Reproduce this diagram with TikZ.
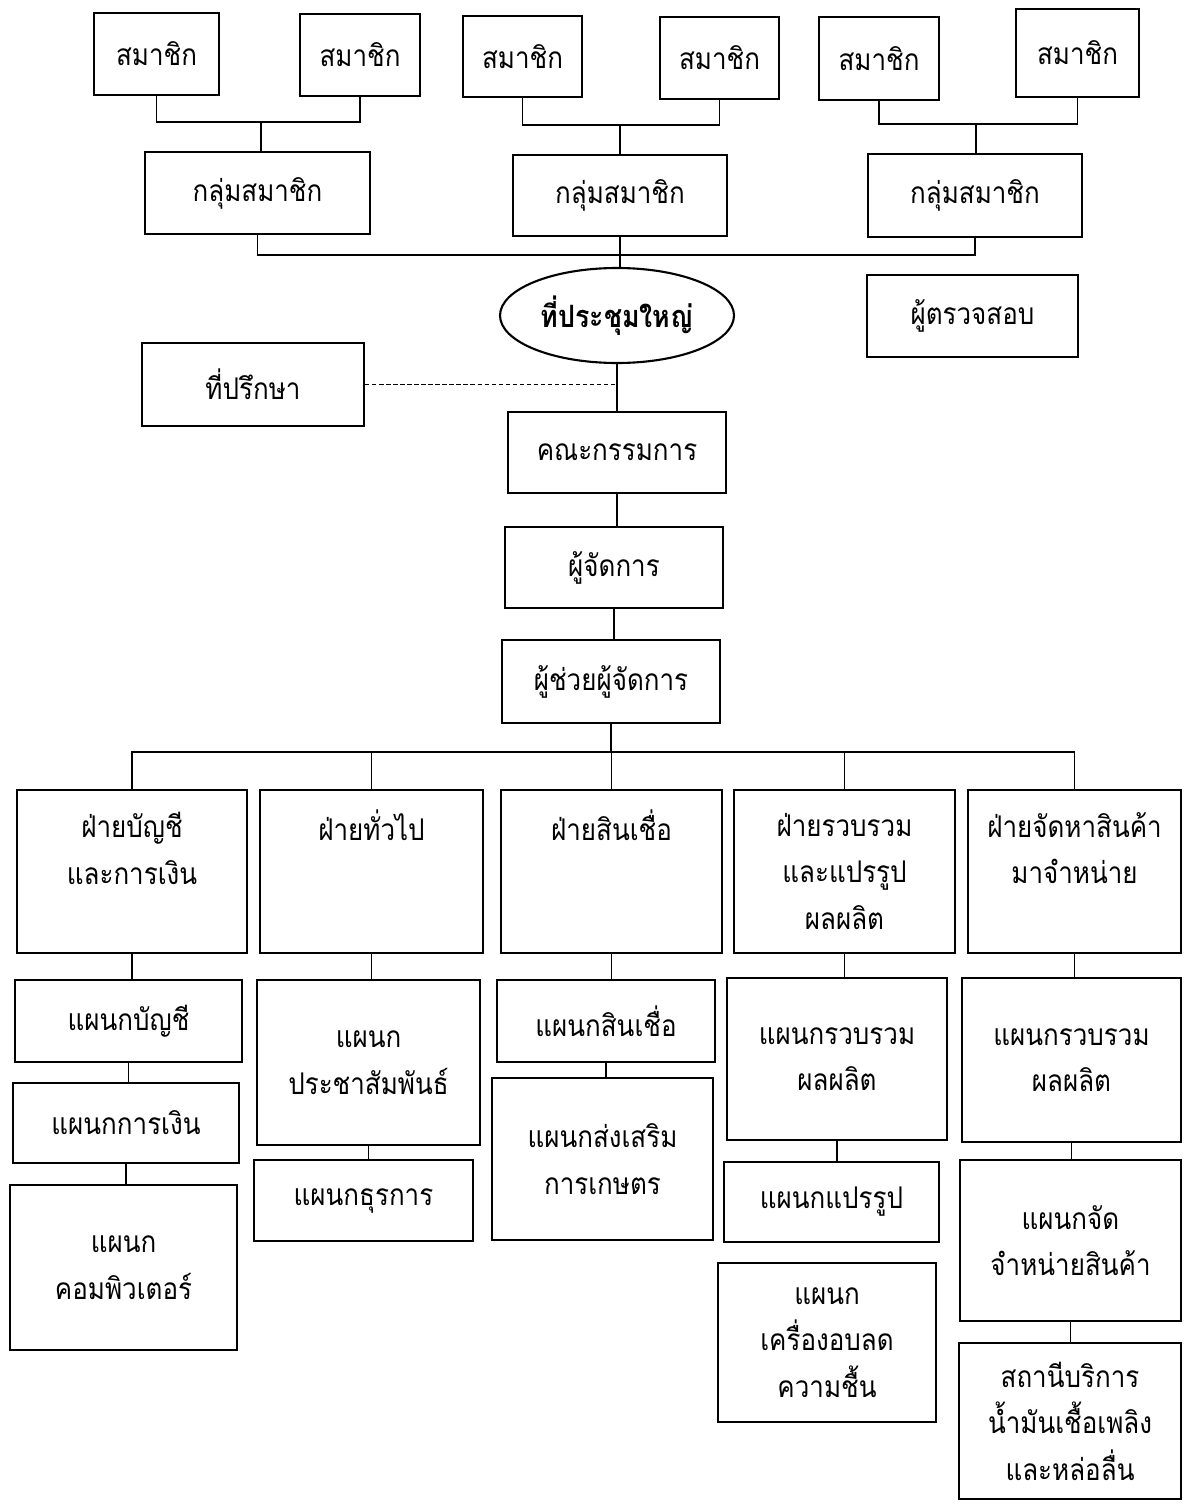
\documentclass[tikz,border=0pt]{standalone}
\usepackage{fontspec}
\setmainfont[Script=Thai, FakeStretch=0.87]{Loma}
\usetikzlibrary{shapes.geometric}

\begin{document}
\begin{tikzpicture}[x=0.02cm, y=-0.02cm,
		font=\fontsize{17pt}{26.5pt}\selectfont,
		bx/.style 2 args={draw, line width=1.2pt, minimum width=#1*0.02cm, minimum height=#2*0.02cm, inner sep=0pt, align=center},
		ln/.style={line width=0.8pt}]
		\useasboundingbox (0,0) rectangle (1184,1504);
		% members and groups
		\node[bx={125}{82}] (m1) at (156.5,54) {สมาชิก};
		\node[bx={120}{82}] (m2) at (360,55) {สมาชิก};
		\node[bx={119}{81}] (m3) at (522.5,56.5) {สมาชิก};
		\node[bx={119}{82}] (m4) at (719.5,58) {สมาชิก};
		\node[bx={120}{83}] (m5) at (879,58.5) {สมาชิก};
		\node[bx={123}{88}] (m6) at (1077.5,53) {สมาชิก};
		
		\node[bx={225}{82}] (g1) at (257.5,193) {กลุ่มสมาชิก};
		\node[bx={214}{81}] (g2) at (620,195.5) {กลุ่มสมาชิก};
		\node[bx={214}{83}] (g3) at (975,195.5) {กลุ่มสมาชิก};
		
		\coordinate (j1) at (261,122);
		\coordinate (j2) at (620,125);
		\coordinate (j3) at (976,124);
		\coordinate (bus1) at (620,255);
		\coordinate (bus2) at (611,752);
		
		\draw[ln] (m1.south) |- (j1) -| (m2.south);
		\draw[ln] (m3.south) |- (j2) -| (m4.south);
		\draw[ln] (m5.south) |- (j3) -| (m6.south);
		\draw[ln] (j1) -- (j1 |- g1.north);
		\draw[ln] (j2) -- (j2 |- g2.north);
		\draw[ln] (j3) -- (j3 |- g3.north);
		\draw[ln] (g1.south) |- (bus1) -| (g3.south);
		
		% meeting, auditor, adviser
		\node[draw, ellipse, line width=1.2pt, minimum width=234*0.02cm, minimum height=95*0.02cm, inner sep=0pt, font=\fontsize{17.5pt}{26.5pt}\selectfont\bfseries] (gm) at (617,315.5) {ที่ประชุมใหญ่};
		\node[bx={211}{82}] (aud) at (972.5,316) {ผู้ตรวจสอบ};
		\node[bx={222}{83}] (adv) at (253,384.5) {ที่ปรึกษา};
		
		\node[bx={218}{81}] (brd) at (617,452.5) {คณะกรรมการ};
		\node[bx={218}{81}] (mgr) at (614,567.5) {ผู้จัดการ};
		\node[bx={218}{83}] (ast) at (611,681.5) {ผู้ช่วยผู้จัดการ};
		
		\draw[ln] (g2.south) -- (g2.south |- gm.north);
		\draw[ln] (gm.south) -- (gm.south |- brd.north);
		\draw[ln, dash pattern=on 2.5pt off 1.5pt] (adv.east) -- (adv.east -| gm.south);
		\draw[ln] (brd.south) -- (brd.south |- mgr.north);
		\draw[ln] (mgr.south) -- (mgr.south |- ast.north);
		\draw[ln] (ast.south) -- (bus2);
		
		% divisions
		\node[bx={230}{163}] (d1) at (132,871.5) {ฝ่ายบัญชี\\และการเงิน\\~};
		\node[bx={223}{163}] (d2) at (371.5,871.5) {ฝ่ายทั่วไป\\~\\~};
		\node[bx={221}{163}] (d3) at (611.5,871.5) {ฝ่ายสินเชื่อ\\~\\~};
		\node[bx={221}{163}] (d4) at (844.5,871.5) {ฝ่ายรวบรวม\\และแปรรูป\\ผลผลิต};
		\node[bx={213}{163}] (d5) at (1074.5,871.5) {ฝ่ายจัดหาสินค้า\\มาจำหน่าย\\~};
		
		\draw[ln] (d1.north) |- (bus2) -| (d5.north);
		\foreach \d in {d2,d3,d4} {
			\draw[ln] (\d.north) -- (\d.north |- bus2);
		};
		
		% sections
		\node[bx={227}{82}] (a1) at (128.5,1021) {แผนกบัญชี};
		\node[bx={226}{80}] (a2) at (126,1123) {แผนกการเงิน};
		\node[bx={227}{165}] (a3) at (123.5,1267.5) {แผนก\\คอมพิวเตอร์};
		\node[bx={223}{165}] (b1) at (368.5,1062.5) {แผนก\\ประชาสัมพันธ์};
		\node[bx={219}{81}] (b2) at (363.5,1200.5) {แผนกธุรการ};
		\node[bx={218}{82}] (c1) at (606,1021) {แผนกสินเชื่อ};
		\node[bx={221}{162}] (c2) at (602.5,1159) {แผนกส่งเสริม\\การเกษตร};
		\node[bx={220}{162}] (e1) at (837,1059) {แผนกรวบรวม\\ผลผลิต};
		\node[bx={215}{80}] (e2) at (831.5,1202) {แผนกแปรรูป};
		\node[bx={218}{159}] (e3) at (827,1342.5) {แผนก\\เครื่องอบลด\\ความชื้น};
		\node[bx={219}{164}] (f1) at (1071.5,1060) {แผนกรวบรวม\\ผลผลิต};
		\node[bx={221}{161}] (f2) at (1070.5,1240.5) {แผนกจัด\\จำหน่ายสินค้า};
		\node[bx={222}{156}] (f3) at (1070,1421) {สถานีบริการ\\น้ำมันเชื้อเพลิง\\และหล่อลื่น};
		
		\foreach \a/\b in {d1/a1, a1/a2, a2/a3, d2/b1, b1/b2, d3/c1, c1/c2, d4/e1, e1/e2, d5/f1, f1/f2, f2/f3} {
			\draw[ln] (\a.south) -- (\a.south |- \b.north);
		};
		%		\draw[ln] (e2.south) -- (e2.south |- e3.north);
\end{tikzpicture}
\end{document}
